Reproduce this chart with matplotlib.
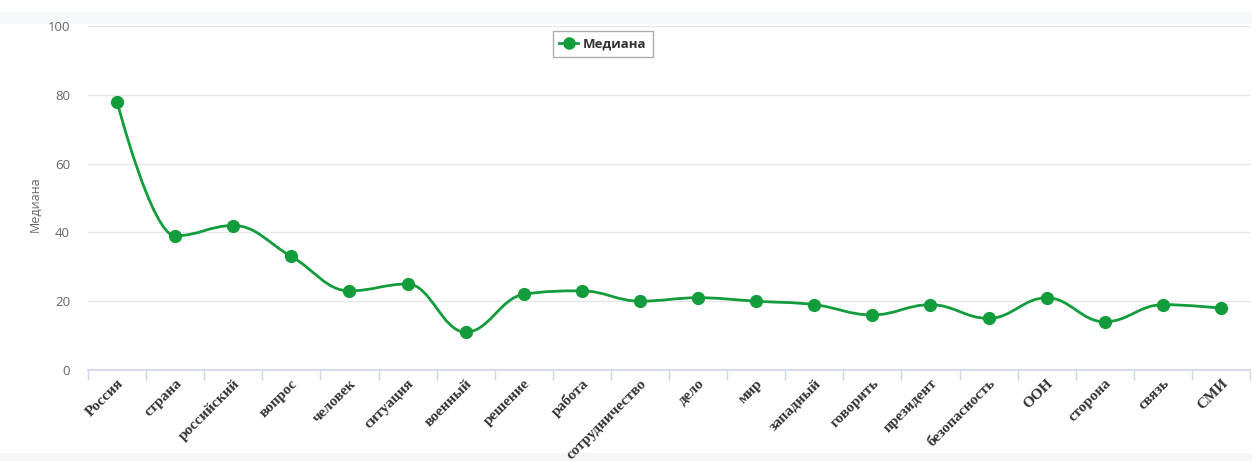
import numpy as np
import matplotlib
matplotlib.use("Agg")
import matplotlib.pyplot as plt
from matplotlib.path import Path
from matplotlib.patches import PathPatch, Rectangle
from matplotlib.lines import Line2D

categories = ["Россия", "страна", "российский", "вопрос", "человек", "ситуация",
              "военный", "решение", "работа", "сотрудничество", "дело", "мир",
              "западный", "говорить", "президент", "безопасность", "ООН",
              "сторона", "связь", "СМИ"]
median_values = [78, 39, 42, 33, 23, 25, 11, 22, 23, 20, 21, 20, 19, 16, 19, 15, 21, 14, 19, 18]
y_ticks = [0, 20, 40, 60, 80, 100]
series_name = "Медиана"

GREEN = "#139c3c"


def spline_path(xs, ys, smoothing=1.5):
    """Highcharts-style spline built as cubic Bezier segments."""
    n = len(xs)
    denom = smoothing + 1
    left = [None] * n
    right = [None] * n
    for i in range(n):
        x, y = xs[i], ys[i]
        if i == 0 or i == n - 1:
            left[i] = (x, y)
            right[i] = (x, y)
            continue
        lx, ly = xs[i - 1], ys[i - 1]
        nx, ny = xs[i + 1], ys[i + 1]
        lcx = (smoothing * x + lx) / denom
        lcy = (smoothing * y + ly) / denom
        rcx = (smoothing * x + nx) / denom
        rcy = (smoothing * y + ny) / denom
        if rcx != lcx:
            corr = ((rcy - lcy) * (rcx - x)) / (rcx - lcx) + y - rcy
            lcy += corr
            rcy += corr
        if lcy > ly and lcy > y:
            lcy = max(ly, y)
            rcy = 2 * y - lcy
        elif lcy < ly and lcy < y:
            lcy = min(ly, y)
            rcy = 2 * y - lcy
        if rcy > ny and rcy > y:
            rcy = max(ny, y)
            lcy = 2 * y - rcy
        elif rcy < ny and rcy < y:
            rcy = min(ny, y)
            lcy = 2 * y - rcy
        left[i] = (lcx, lcy)
        right[i] = (rcx, rcy)
    verts = [(xs[0], ys[0])]
    codes = [Path.MOVETO]
    for i in range(1, n):
        verts += [right[i - 1], left[i], (xs[i], ys[i])]
        codes += [Path.CURVE4] * 3
    return Path(verts, codes)


fig = plt.figure(figsize=(12.52, 4.61), dpi=100)
fig.patch.set_facecolor("white")

# faint bands at top and bottom of the image
fig.add_artist(Rectangle((0, 1 - 24 / 461), 1, 12 / 461, transform=fig.transFigure,
                         facecolor="#f5f9f9", edgecolor="none", zorder=0))
fig.add_artist(Rectangle((0, 0), 1, 8 / 461, transform=fig.transFigure,
                         facecolor="#f6f6f6", edgecolor="none", zorder=0))

ax = fig.add_axes([88 / 1252, 1 - 370 / 461, (1250 - 88) / 1252, (370 - 26) / 461])
ax.set_facecolor("none")

x = np.arange(len(categories))
path = spline_path(list(x.astype(float)), [float(v) for v in median_values])
ax.add_patch(PathPatch(path, facecolor="none", edgecolor=GREEN, lw=2, zorder=3,
                       capstyle="round", joinstyle="round"))
ax.plot(x, median_values, linestyle="none", marker="o", markersize=8.5,
        color=GREEN, zorder=4)

ax.set_xlim(-0.5, len(categories) - 0.5)
ax.set_ylim(0, 100)

ax.set_yticks(y_ticks)
ax.yaxis.grid(True, color="#e6e6e6", linewidth=1)
ax.set_axisbelow(True)
ax.tick_params(axis="y", length=0, pad=13, labelsize=9.5, labelcolor="#666666")
for lab in ax.get_yticklabels():
    lab.set_fontfamily("Open Sans")

ax.set_xticks(x)
ax.set_xticklabels(categories, rotation=45, ha="right", va="top",
                   rotation_mode="anchor", fontsize=11, fontweight="bold",
                   fontfamily="Liberation Serif", color="#333333")
ax.tick_params(axis="x", which="major", length=0, pad=5)
ax.set_xticks(np.arange(len(categories) + 1) - 0.5, minor=True)
ax.tick_params(axis="x", which="minor", length=7.5, width=1, color="#ccd6eb")

for s in ["top", "right", "left"]:
    ax.spines[s].set_visible(False)
ax.spines["bottom"].set_color("#ccd6eb")
ax.spines["bottom"].set_linewidth(1.2)

fig.text(35 / 1252, 1 - 204 / 461, series_name, rotation=90, ha="center", va="center",
         fontsize=9, color="#666666", family="Open Sans")

handle = Line2D([0], [0], color=GREEN, lw=2, marker="o", markersize=8)
leg = fig.legend([handle], [series_name], loc="center",
                 bbox_to_anchor=(603 / 1252, 1 - 44 / 461),
                 frameon=True, fancybox=False, handlelength=1.4, handletextpad=0.4,
                 borderpad=0.5, prop={"family": "Open Sans", "weight": "bold", "size": 9.5})
leg.get_frame().set_edgecolor("#999999")
leg.get_frame().set_linewidth(1)
for t in leg.get_texts():
    t.set_color("#333333")

fig.savefig("out.png", dpi=100)
